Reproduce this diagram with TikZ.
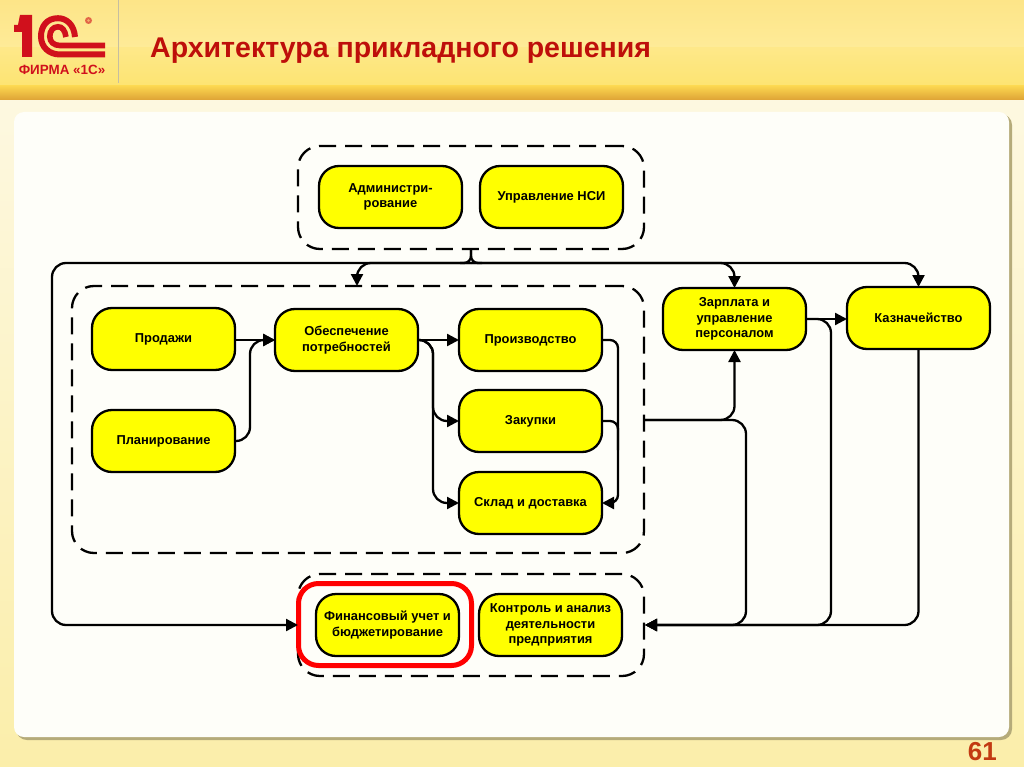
\documentclass[tikz,border=0pt]{standalone}
\usepackage{fontspec}
\setmainfont{Liberation Sans}
\usetikzlibrary{arrows.meta,calc}
\definecolor{boxyellow}{HTML}{FFFF00}
\definecolor{titlered}{HTML}{BE0F0A}
\definecolor{logored}{HTML}{D0101C}
\definecolor{numred}{HTML}{C23A12}
\definecolor{bgtop}{HTML}{FDE588}
\definecolor{bgmid}{HTML}{FEEB98}
\definecolor{bglow}{HTML}{FDE472}
\definecolor{bodytop}{HTML}{FDF8E0}
\definecolor{bodylow}{HTML}{FBEEAA}
\definecolor{bandtop}{HTML}{FBD650}
\definecolor{bandlow}{HTML}{DC9F33}
\definecolor{panelw}{HTML}{FEFEF9}
\tikzset{
  x=1pt,y=-1pt,
  unit/.style={draw=black,line width=2.3pt,fill=boxyellow,rounded corners=20pt,minimum width=143pt,minimum height=62pt,inner sep=0pt,outer sep=0pt,align=center,font=\bfseries\fontsize{12.9}{15.5}\selectfont,anchor=north west},
  zone/.style={draw=black,line width=2.3pt,rounded corners=22pt,dash pattern=on 17pt off 9pt,inner sep=0pt,outer sep=0pt,anchor=north west},
  link/.style={draw=black,line width=2.3pt,rounded corners=14pt},
  arrowed/.style={link,-{Triangle[length=12pt,width=12pt]}},
}
\begin{document}
\begin{tikzpicture}
\useasboundingbox (0,0) rectangle (1024,767);
% slide background
\shade[top color=bgtop,bottom color=bgmid] (0,0) rectangle (1024,48);
\shade[top color=bgmid!60!bglow,bottom color=bglow] (0,48) rectangle (1024,86);
\shade[top color=bandtop,bottom color=bandlow] (0,86) rectangle (1024,101);
\shade[top color=bodytop,bottom color=bodylow] (0,101) rectangle (1024,767);
\fill[black!28!bodylow,rounded corners=11pt] (16,114) rectangle (1012,740);
\fill[panelw,rounded corners=10pt] (14,112) rectangle (1009,737);
\draw[bgtop!60!black!55,line width=1pt] (118,0) -- (118,83);
% logo
\fill[logored] (14,25) -- (18,25) -- (20,15) -- (32,15) -- (32,57) -- (22,57) -- (22,32) -- (14,32) -- cycle;
\draw[logored,line width=6pt] (75,37) .. controls (74,24) and (66,18.2) .. (58,18.2) .. controls (47,18.2) and (41,26) .. (41,36.5) .. controls (41,47) and (49,54.5) .. (60,54.5) -- (105,54.5);
\draw[logored,line width=5.6pt] (66,37) .. controls (65,30) and (62,26.8) .. (58,26.8) .. controls (53,26.8) and (49.8,31) .. (49.8,36.5) .. controls (49.8,42) and (54,45.5) .. (60,45.5) -- (105,45.5);
\node[inner sep=0pt,text=logored,font=\bfseries\fontsize{13.4}{14}\selectfont] (logotext) at (62,70) {ФИРМА «1С»};
\fill[logored!60!bgtop] (88.5,20.5) circle[radius=3.5pt];
\fill[logored!25!bgtop] (88.5,20.5) circle[radius=1.4pt];
% title
\node[inner sep=0pt,anchor=west,text=titlered,font=\bfseries\fontsize{28.5}{30}\selectfont] (title) at (150,51) {Архитектура прикладного решения};
\node[inner sep=0pt,anchor=east,text=numred,font=\bfseries\fontsize{26}{28}\selectfont] (page) at (997,752) {61};
% zones
\node[zone,minimum width=346pt,minimum height=103pt] (topz) at (298,146) {};
\node[zone,minimum width=572pt,minimum height=267pt] (midz) at (72,286) {};
\node[zone,minimum width=346pt,minimum height=102pt] (botz) at (298,574) {};
% units
\node[unit] (admin) at (319,166) {Администри-\\рование};
\node[unit] (nsi) at (480,166) {Управление НСИ};
\node[unit] (sales) at (92,308) {Продажи};
\node[unit] (plan) at (92,410) {Планирование};
\node[unit] (need) at (275,309) {Обеспечение\\потребностей};
\node[unit] (prod) at (459,309) {Производство};
\node[unit] (buy) at (459,390) {Закупки};
\node[unit] (store) at (459,472) {Склад и доставка};
\node[unit] (pay) at (663,288) {Зарплата и\\управление\\персоналом};
\node[unit] (treas) at (847,287) {Казначейство};
\node[unit] (fin) at (316,594) {Финансовый учет и\\бюджетирование};
\node[unit] (ctrl) at (479,594) {Контроль и анализ\\деятельности\\предприятия};
\node[draw=red,line width=5pt,rounded corners=20pt,minimum width=173pt,minimum height=82pt,inner sep=0pt,outer sep=0pt,anchor=north west] (hl) at (298.5,583.5) {};
% connector anchors
\coordinate (split) at (471,263);
\coordinate (midtop) at (357,286);
\coordinate (topout) at (471,249);
\coordinate (finin) at (298,625);
\coordinate (ctrlin) at (645,625);
\coordinate (midout) at (644,420);
\coordinate (needin) at (275,340);
\coordinate (railr) at (618,421);
% top distribution
\draw[link,rounded corners=7pt] (topout) -- (split) -- (460,263);
\draw[link,rounded corners=7pt] (topout) -- (split) -- (482,263);
\draw[arrowed] (split) -| (midtop);
\draw[arrowed] (split) -| (pay.north);
\draw[arrowed] (split) -| (treas.north);
\draw[arrowed] (split) -- (52,263) -- (52,625) -- (finin);
% middle
\draw[arrowed] (sales.east |- needin) -- (needin);
\draw[arrowed] (plan.east) -- (250,441) -- (250,340) -- (needin);
\draw[arrowed] (need.east) -- (prod.west);
\draw[arrowed] (need.east) -- (433,340) -- (433,421) -- (buy.west);
\draw[arrowed] (need.east) -- (433,340) -- (433,503) -- (store.west);
\draw[arrowed,rounded corners=8pt] (prod.east) -- (618,340) -- (618,503) -- (store.east);
\draw[link,rounded corners=8pt] (buy.east) -- (railr) -- (618,450);
% right side
\draw[arrowed] (midout) -| (pay.south);
\draw[arrowed] (midout) -- (746,420) -- (746,625) -- (ctrlin);
\draw[arrowed] (pay.east) -- (pay.east -| treas.west);
\draw[arrowed] (pay.east) -- (831,319) -- (831,625) -- (ctrlin);
\draw[arrowed] (treas.south) |- (ctrlin);
\end{tikzpicture}
\end{document}
